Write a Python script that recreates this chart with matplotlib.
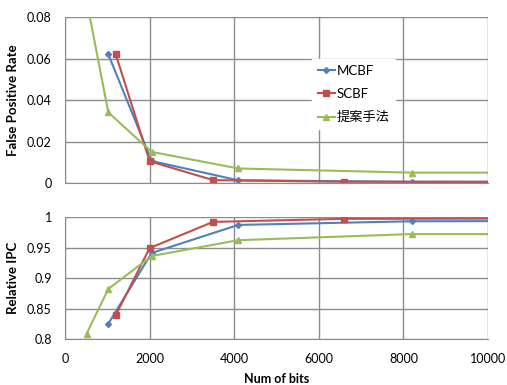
import matplotlib
matplotlib.use("Agg")
import matplotlib.pyplot as plt

# ------------------------------------------------------------
# data
# (last point lies past the x-axis limit, so the line runs to the edge)
# ------------------------------------------------------------
mcbf_bits = [1024, 2048, 4096, 8192, 16384]
mcbf_fpr = [0.062, 0.0106, 0.0013, 0.0006, 0.0005]
mcbf_ipc = [0.825, 0.941, 0.987, 0.993, 0.994]

scbf_bits = [1200, 2000, 3500, 6600, 16384]
scbf_fpr = [0.062, 0.0105, 0.0014, 0.0006, 0.0005]
scbf_ipc = [0.839, 0.949, 0.992, 0.997, 0.998]

prop_bits = [512, 1024, 2048, 4096, 8192, 16384]
prop_fpr = [0.088, 0.034, 0.015, 0.007, 0.005, 0.005]
prop_ipc = [0.809, 0.882, 0.936, 0.962, 0.972, 0.972]

labels = ["MCBF", "SCBF", "提案手法"]
colors = ["#4F81BD", "#C0504D", "#9BBB59"]
markers = ["D", "s", "^"]
msizes = [3.0, 4.8, 5.0]

plt.rcParams["font.family"] = ["Lato", "Noto Sans CJK JP", "DejaVu Sans"]
plt.rcParams["font.size"] = 9

fig = plt.figure(figsize=(5.07, 3.85), dpi=100)
W, H = 507.0, 385.0
ax1 = fig.add_axes([65 / W, 1 - 183 / H, (488 - 65) / W, (183 - 17) / H])
ax2 = fig.add_axes([65 / W, 1 - 339 / H, (488 - 65) / W, (339 - 217) / H])

series_top = [(mcbf_bits, mcbf_fpr), (scbf_bits, scbf_fpr), (prop_bits, prop_fpr)]
series_bot = [(mcbf_bits, mcbf_ipc), (scbf_bits, scbf_ipc), (prop_bits, prop_ipc)]

for i in range(3):
    x, y = series_top[i]
    ax1.plot(x, y, color=colors[i], marker=markers[i], markersize=msizes[i],
             linewidth=1.5, label=labels[i])
    x, y = series_bot[i]
    ax2.plot(x, y, color=colors[i], marker=markers[i], markersize=msizes[i],
             linewidth=1.5, label=labels[i])

grid_col = "#8C8C8C"
for ax in (ax1, ax2):
    ax.set_xlim(0, 10000)
    ax.set_xticks(range(0, 10001, 2000))
    ax.grid(True, color=grid_col, linewidth=1.0)
    ax.set_axisbelow(True)
    for s in ax.spines.values():
        s.set_color(grid_col)
    ax.spines["top"].set_visible(False)
    ax.spines["right"].set_visible(False)
    ax.tick_params(axis="y", length=0, pad=9.5)
    ax.tick_params(axis="x", length=0, pad=10)

ax1.set_ylim(0, 0.08)
ax1.set_yticks([0, 0.02, 0.04, 0.06, 0.08])
ax1.set_yticklabels(["0", "0.02", "0.04", "0.06", "0.08"])
ax1.set_xticklabels([])
ax1.set_ylabel("False Positive Rate", fontweight="bold", fontsize=9.5)

ax2.set_ylim(0.8, 1.0)
ax2.set_yticks([0.8, 0.85, 0.9, 0.95, 1.0])
ax2.set_yticklabels(["0.8", "0.85", "0.9", "0.95", "1"])
ax2.set_xlabel("Num of bits", fontweight="bold", fontsize=9, labelpad=6)
ax2.set_ylabel("Relative IPC", fontweight="bold", fontsize=9.5)

for ax in (ax1, ax2):
    ax.yaxis.set_label_coords(-0.108, 0.5)

leg = ax1.legend(loc="upper left", bbox_to_anchor=(0.585, 0.745), frameon=True,
                 fancybox=False, edgecolor="white", framealpha=1.0,
                 handlelength=1.3, handletextpad=0.15, labelspacing=0.85,
                 borderpad=0.4, borderaxespad=0, fontsize=9.5)

fig.savefig("out.png", dpi=100)
